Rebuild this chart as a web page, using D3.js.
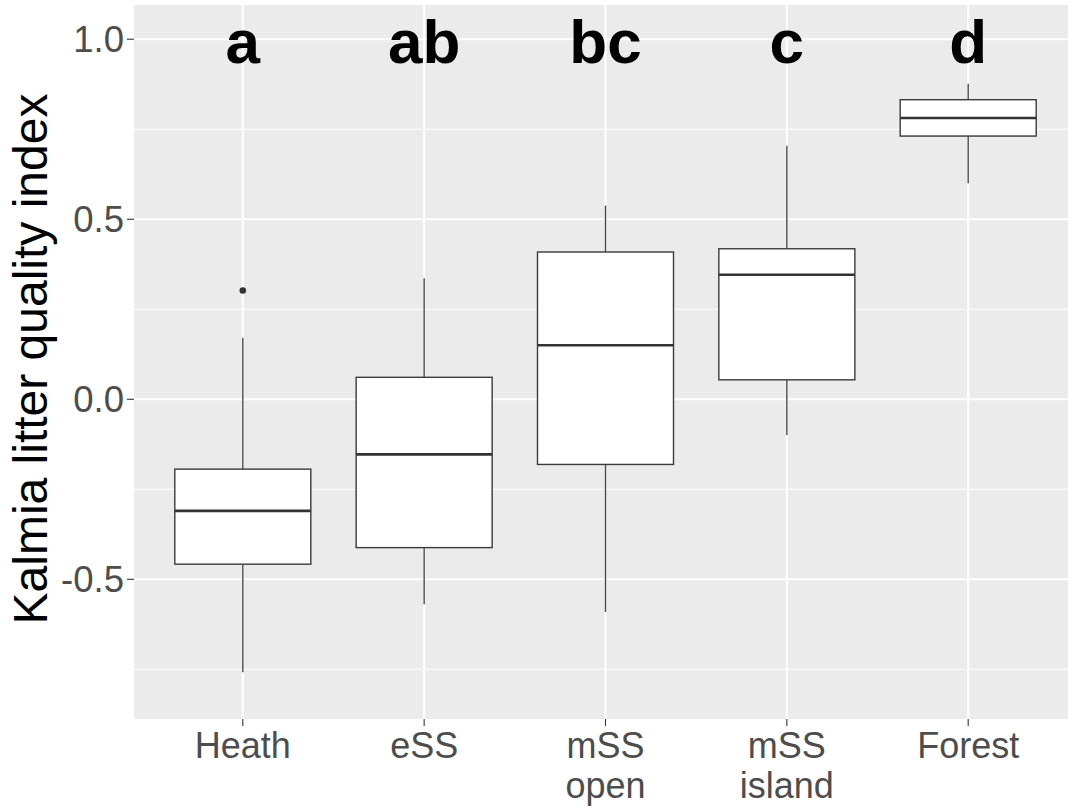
<!DOCTYPE html>
<html>
<head>
<meta charset="utf-8">
<script src="https://cdn.jsdelivr.net/npm/d3@7"></script>
<style>
  html, body { margin: 0; padding: 0; background: #ffffff; }
  svg { display: block; font-family: "Liberation Sans", Arial, Helvetica, sans-serif; }
</style>
</head>
<body>
<svg id="chart" width="1068" height="809"></svg>
<script>
// ---- data ----
const categories   = ["Heath", "eSS", "mSS\nopen", "mSS\nisland", "Forest"];
const whiskerLow   = [-0.758, -0.569, -0.591, -0.099, 0.600];
const q1           = [-0.458, -0.412, -0.181,  0.054, 0.731];
const medians      = [-0.310, -0.153,  0.150,  0.346, 0.781];
const q3           = [-0.194,  0.061,  0.409,  0.418, 0.832];
const whiskerHigh  = [ 0.171,  0.336,  0.538,  0.704, 0.876];
const outliers     = [[0.302], [], [], [], []];
const groupLetters = ["a", "ab", "bc", "c", "d"];
const yTicks       = [-0.5, 0.0, 0.5, 1.0];
const yTickLabels  = ["-0.5", "0.0", "0.5", "1.0"];
const yMinorTicks  = [-0.75, -0.25, 0.25, 0.75];
const yTitle       = "Kalmia litter quality index";

// ---- layout ----
const svg = d3.select("#chart");
const panel = { left: 134, right: 1077, top: 5, bottom: 719 };

const x = d3.scalePoint().domain(categories).range([panel.left, panel.right]).padding(0.6);
const y = d3.scaleLinear().domain([-0.888, 1.095]).range([panel.bottom, panel.top]);
const boxW = x.step() * 0.75;

// panel background
svg.append("rect")
  .attr("x", panel.left).attr("y", panel.top)
  .attr("width", panel.right - panel.left).attr("height", panel.bottom - panel.top)
  .attr("fill", "#EBEBEB");

const grid = svg.append("g");
grid.selectAll("line.minor").data(yMinorTicks).enter().append("line")
  .attr("x1", panel.left).attr("x2", panel.right)
  .attr("y1", d => y(d)).attr("y2", d => y(d))
  .attr("stroke", "#ffffff").attr("stroke-width", 1.1);
grid.selectAll("line.major").data(yTicks).enter().append("line")
  .attr("x1", panel.left).attr("x2", panel.right)
  .attr("y1", d => y(d)).attr("y2", d => y(d))
  .attr("stroke", "#ffffff").attr("stroke-width", 2.1);
grid.selectAll("line.vmajor").data(categories).enter().append("line")
  .attr("x1", d => x(d)).attr("x2", d => x(d))
  .attr("y1", panel.top).attr("y2", panel.bottom)
  .attr("stroke", "#ffffff").attr("stroke-width", 2.1);

// boxes
const boxes = svg.append("g");
categories.forEach((c, i) => {
  const cx = x(c);
  const g = boxes.append("g");
  g.append("line")
    .attr("x1", cx).attr("x2", cx)
    .attr("y1", y(q3[i])).attr("y2", y(whiskerHigh[i]))
    .attr("stroke", "#4a4a4a").attr("stroke-width", 1.4);
  g.append("line")
    .attr("x1", cx).attr("x2", cx)
    .attr("y1", y(q1[i])).attr("y2", y(whiskerLow[i]))
    .attr("stroke", "#4a4a4a").attr("stroke-width", 1.4);
  g.append("rect")
    .attr("x", cx - boxW / 2).attr("width", boxW)
    .attr("y", y(q3[i])).attr("height", y(q1[i]) - y(q3[i]))
    .attr("fill", "#ffffff").attr("stroke", "#3a3a3a").attr("stroke-width", 1.4);
  g.append("line")
    .attr("x1", cx - boxW / 2).attr("x2", cx + boxW / 2)
    .attr("y1", y(medians[i])).attr("y2", y(medians[i]))
    .attr("stroke", "#333333").attr("stroke-width", 2.6);
  outliers[i].forEach(v => {
    g.append("circle").attr("cx", cx).attr("cy", y(v)).attr("r", 3.3).attr("fill", "#333333");
  });
});

// group letters
svg.append("g").selectAll("text").data(categories).enter().append("text")
  .attr("x", d => x(d)).attr("y", 63)
  .attr("text-anchor", "middle")
  .attr("font-size", 62).attr("font-weight", "bold").attr("fill", "#000000")
  .text((d, i) => groupLetters[i]);

// y axis ticks and labels
const yAxis = svg.append("g");
yAxis.selectAll("line").data(yTicks).enter().append("line")
  .attr("x1", panel.left - 7).attr("x2", panel.left)
  .attr("y1", d => y(d)).attr("y2", d => y(d))
  .attr("stroke", "#333333").attr("stroke-width", 1.1);
yAxis.selectAll("text").data(yTicks).enter().append("text")
  .attr("x", panel.left - 10).attr("y", d => y(d))
  .attr("dy", "0.36em")
  .attr("text-anchor", "end")
  .attr("font-size", 36.5).attr("fill", "#4D4D4D")
  .text((d, i) => yTickLabels[i]);

// x axis ticks and labels
const xAxis = svg.append("g");
xAxis.selectAll("line").data(categories).enter().append("line")
  .attr("x1", d => x(d)).attr("x2", d => x(d))
  .attr("y1", panel.bottom).attr("y2", panel.bottom + 7)
  .attr("stroke", "#333333").attr("stroke-width", 1.1);
const xl = xAxis.selectAll("text").data(categories).enter().append("text")
  .attr("x", d => x(d)).attr("y", 758)
  .attr("text-anchor", "middle")
  .attr("font-size", 36).attr("fill", "#4D4D4D");
xl.each(function(d) {
  const lines = d.split("\n");
  const t = d3.select(this);
  lines.forEach((ln, k) => {
    t.append("tspan").attr("x", x(d)).attr("dy", k === 0 ? 0 : 40).text(ln);
  });
});

// y title
svg.append("text")
  .attr("transform", `translate(47, ${(panel.top + panel.bottom) / 2 - 3}) rotate(-90)`)
  .attr("text-anchor", "middle")
  .attr("font-size", 48).attr("fill", "#000000")
  .text(yTitle);
</script>
</body>
</html>
